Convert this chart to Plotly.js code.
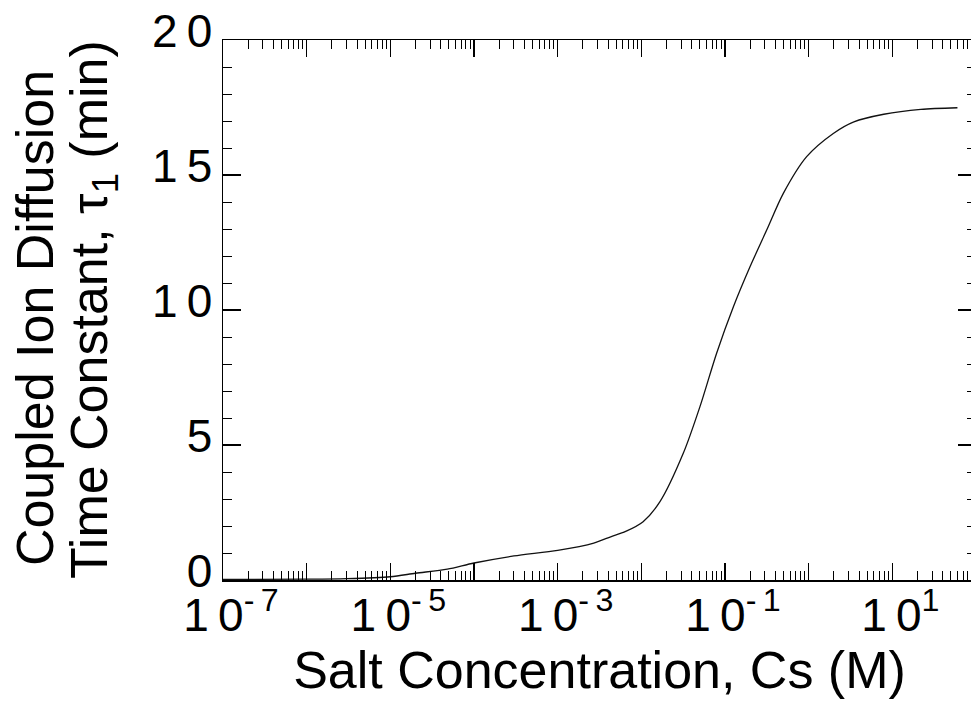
<!DOCTYPE html>
<html>
<head>
<meta charset="utf-8">
<script src="https://cdn.plot.ly/plotly-3.0.1.min.js"></script>
<style>
  html, body { margin: 0; padding: 0; overflow: hidden; background: #fff; }
  #chart { width: 980px; height: 702px; }
</style>
</head>
<body>
<div id="chart"></div>
<script>
// Salt concentration Cs (M)
const conc = [1e-7, 1e-6, 3e-6, 1e-5, 2e-5, 4.8e-5, 1e-4, 3e-4, 1e-3, 2.7e-3, 4.3e-3, 6.5e-3,
              1.05e-2, 1.67e-2, 3.17e-2, 5.02e-2, 7.94e-2, 0.126, 0.199, 0.315, 0.498,
              0.946, 1.97, 3.47, 7.9, 21.9, 60];
// Coupled ion diffusion time constant tau1 (min)
const tau = [0.02, 0.03, 0.05, 0.12, 0.25, 0.4, 0.63, 0.89, 1.1, 1.37, 1.6, 1.8,
             2.16, 2.9, 4.69, 6.42, 8.4, 10.12, 11.6, 12.96, 14.32,
             15.68, 16.54, 16.97, 17.25, 17.43, 17.49];

// Tick values / labels
const xDecades = [1e-7, 1e-6, 1e-5, 1e-4, 1e-3, 1e-2, 1e-1, 1e0, 1e1, 1e2];
const xDecadeLabels = ['1\u20090<sup>-\u20097</sup>', '', '1\u20090<sup>-\u20095</sup>', '',
                       '1\u20090<sup>-\u20093</sup>', '', '1\u20090<sup>-\u20091</sup>', '',
                       '1\u20090<sup>1</sup>', ''];
const yTickVals = [0, 5, 10, 15, 20];
const yTickLabels = ['0', '5', '1\u20090', '1\u20095', '2\u20090'];

const xMinor = [];
for (let e = -7; e < 2; e++) {
  for (let m = 2; m <= 9; m++) xMinor.push(m * Math.pow(10, e));
}

const font = 'Liberation Sans, Arial, Helvetica, sans-serif';

const trace = {
  x: conc, y: tau,
  type: 'scatter', mode: 'lines',
  line: { color: '#111', width: 1.3, shape: 'spline', smoothing: 0.8 },
  hoverinfo: 'skip'
};

const layout = {
  width: 980, height: 702,
  margin: { l: 223, r: 4, t: 40, b: 122 },
  paper_bgcolor: '#fff', plot_bgcolor: '#fff',
  showlegend: false,
  font: { family: font, color: '#000' },
  xaxis: {
    type: 'log', range: [-7, 2],
    showgrid: false, zeroline: false,
    showline: true, linecolor: '#000', linewidth: 1.5, mirror: 'allticks',
    ticks: 'inside', ticklen: 17, tickwidth: 1.2, tickcolor: '#000',
    tickmode: 'array', tickvals: xDecades, ticktext: xDecadeLabels,
    tickfont: { size: 46, family: font, color: '#000' },
    ticklabelshift: 8, ticklabelstandoff: -6,
    minor: { tickmode: 'array', tickvals: xMinor, ticks: 'inside', ticklen: 9, tickwidth: 1, tickcolor: '#000', showgrid: false },
    title: { text: 'Salt Concentration, Cs (M)', font: { size: 52, family: font, color: '#000' }, standoff: 10 }
  },
  yaxis: {
    range: [0, 20],
    showgrid: false, zeroline: false,
    showline: true, linecolor: '#000', linewidth: 1.5, mirror: 'allticks',
    ticks: 'inside', ticklen: 18, tickwidth: 1.2, tickcolor: '#000',
    tickmode: 'array', tickvals: yTickVals, ticktext: yTickLabels,
    tickfont: { size: 46, family: font, color: '#000' },
    ticklabelshift: -9,
    minor: { dtick: 1, ticks: 'inside', ticklen: 9, tickwidth: 1, tickcolor: '#000', showgrid: false },
    title: { text: '' }
  },
  annotations: [
    { text: 'Coupled Ion Diffusion', xref: 'paper', yref: 'paper',
      x: (35 - 223) / 753, y: 0.485, xanchor: 'center', yanchor: 'middle',
      textangle: -90, showarrow: false, font: { size: 52, family: font, color: '#000' } },
    { text: 'Time Constant, \u03c4<sub>1</sub> (min)', xref: 'paper', yref: 'paper',
      x: (93 - 223) / 753, y: 0.5, xanchor: 'center', yanchor: 'middle',
      textangle: -90, showarrow: false, font: { size: 52, family: font, color: '#000' } }
  ]
};

Plotly.newPlot('chart', [trace], layout, { staticPlot: true, displayModeBar: false });
</script>
</body>
</html>
